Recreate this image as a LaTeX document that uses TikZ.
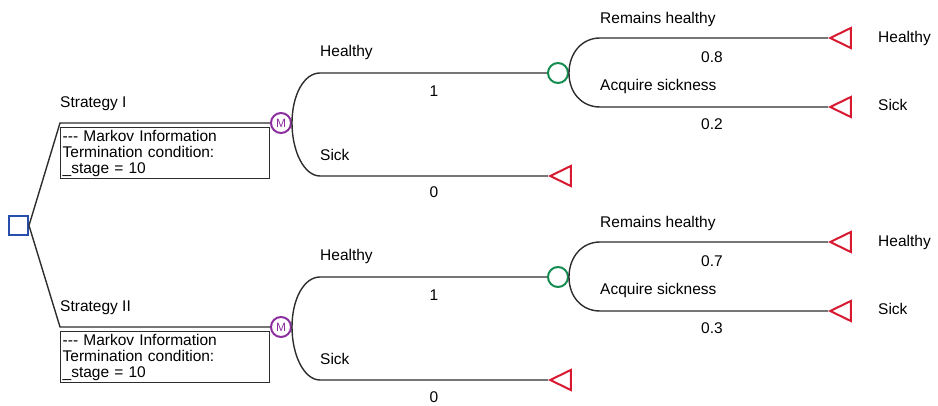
\documentclass[tikz,border=0pt]{standalone}
\usepackage{fontspec}
\setmainfont{Liberation Sans}
\usetikzlibrary{shapes.geometric}
\definecolor{decblue}{RGB}{38,78,170}
\definecolor{markovpurple}{RGB}{140,45,160}
\definecolor{chancegreen}{RGB}{20,140,80}
\definecolor{termred}{RGB}{215,25,50}
\definecolor{branchgray}{RGB}{45,45,45}
\tikzstyle{branch} = [draw=branchgray, line width=1.4pt]
\tikzstyle{decision} = [draw=decblue, line width=2pt, rectangle, minimum size=19pt, inner sep=0]
\tikzstyle{markov} = [draw=markovpurple, line width=2pt, circle, minimum size=20pt, inner sep=0, text=markovpurple, font=\fontsize{12}{12}\selectfont]
\tikzstyle{chance} = [draw=chancegreen, line width=2pt, circle, minimum size=20pt, inner sep=0]
\tikzstyle{terminal} = [draw=termred, line width=2pt, isosceles triangle, isosceles triangle apex angle=52, shape border rotate=180, minimum height=20pt, minimum width=20pt, inner sep=0, anchor=apex]
\tikzstyle{infobox} = [draw=branchgray, line width=1.4pt, rectangle, anchor=north west, minimum width=209pt, minimum height=51pt, text width=205pt, inner xsep=2pt, inner ysep=2pt, align=left]
\tikzstyle{lbl} = [inner sep=0, anchor=base west]
\tikzstyle{prob} = [inner sep=0, anchor=base]

\begin{document}
\begin{tikzpicture}[x=1pt, y=-1pt, font=\fontsize{15.5}{16}\selectfont]
    \useasboundingbox (0,0) rectangle (938,406);
    \node[decision] (root) at (18.5,225.5) {};
    % Strategy I
    \node[markov] (mI) at (281,123) {M};
    \node[infobox] (boxI) at (60,127) {-{}-{}- Markov Information\\Termination condition:\\\_stage = 10};
    \node[lbl] (strI) at (60,108) {Strategy I};
    \coordinate (kI) at (60,123);
    \node[chance] (cI) at (558,73) {};
    \node[terminal] (tIs) at (548,176) {};
    \coordinate (kIh) at (320,73);
    \coordinate (kIs) at (320,176);
    \node[lbl] (hI) at (320,57) {Healthy};
    \node[prob] (phI) at (434,97) {1};
    \node[lbl] (sI) at (320,161) {Sick};
    \node[prob] (psI) at (434,198) {0};
    \node[terminal] (tIa) at (828,38) {};
    \node[terminal] (tIb) at (828,107) {};
    \coordinate (kIa) at (600,38);
    \coordinate (kIb) at (600,107);
    \node[lbl] (rI) at (600,24) {Remains healthy};
    \node[prob] (prI) at (712,63) {0.8};
    \node[lbl] (aI) at (600,91) {Acquire sickness};
    \node[prob] (paI) at (712,130) {0.2};
    \node[lbl] (eIa) at (878,43) {Healthy};
    \node[lbl] (eIb) at (878,111) {Sick};
    \path[branch] (root.east) -- (kI) -- (mI.west);
    \path[branch] (mI.east) .. controls +(0,-28) and +(-16,0) .. (kIh) -- (cI.west);
    \path[branch] (mI.east) .. controls +(0,28) and +(-16,0) .. (kIs) -- (tIs.apex);
    \path[branch] (cI.east) .. controls +(0,-20) and +(-18,0) .. (kIa) -- (tIa.apex);
    \path[branch] (cI.east) .. controls +(0,20) and +(-18,0) .. (kIb) -- (tIb.apex);
    % Strategy II
    \node[markov] (mII) at (281,327) {M};
    \node[infobox] (boxII) at (60,331) {-{}-{}- Markov Information\\Termination condition:\\\_stage = 10};
    \node[lbl] (strII) at (60,312) {Strategy II};
    \coordinate (kII) at (60,327);
    \node[chance] (cII) at (558,277) {};
    \node[terminal] (tIIs) at (548,380) {};
    \coordinate (kIIh) at (320,277);
    \coordinate (kIIs) at (320,380);
    \node[lbl] (hII) at (320,261) {Healthy};
    \node[prob] (phII) at (434,301) {1};
    \node[lbl] (sII) at (320,365) {Sick};
    \node[prob] (psII) at (434,402) {0};
    \node[terminal] (tIIa) at (828,242) {};
    \node[terminal] (tIIb) at (828,311) {};
    \coordinate (kIIa) at (600,242);
    \coordinate (kIIb) at (600,311);
    \node[lbl] (rII) at (600,228) {Remains healthy};
    \node[prob] (prII) at (712,267) {0.7};
    \node[lbl] (aII) at (600,295) {Acquire sickness};
    \node[prob] (paII) at (712,334) {0.3};
    \node[lbl] (eIIa) at (878,247) {Healthy};
    \node[lbl] (eIIb) at (878,315) {Sick};
    \path[branch] (root.east) -- (kII) -- (mII.west);
    \path[branch] (mII.east) .. controls +(0,-28) and +(-16,0) .. (kIIh) -- (cII.west);
    \path[branch] (mII.east) .. controls +(0,28) and +(-16,0) .. (kIIs) -- (tIIs.apex);
    \path[branch] (cII.east) .. controls +(0,-20) and +(-18,0) .. (kIIa) -- (tIIa.apex);
    \path[branch] (cII.east) .. controls +(0,20) and +(-18,0) .. (kIIb) -- (tIIb.apex);
\end{tikzpicture}
\end{document}
